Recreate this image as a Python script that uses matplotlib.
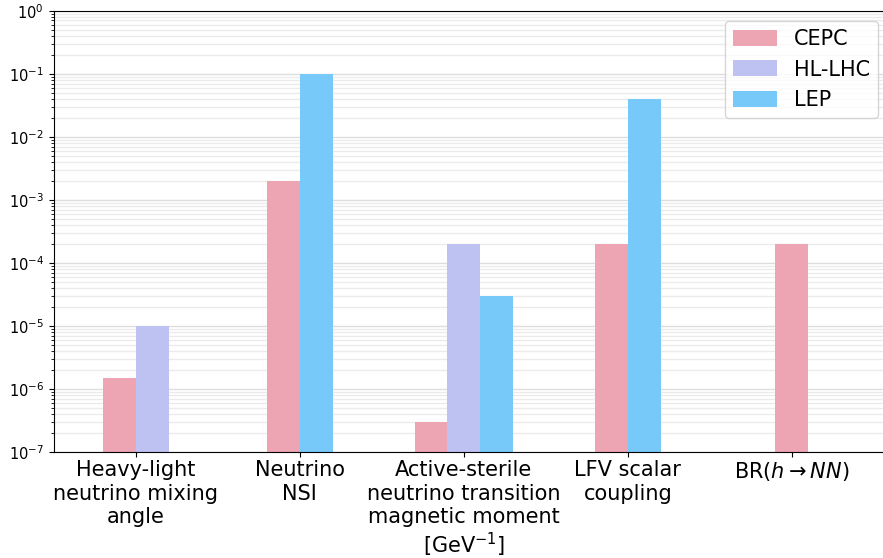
import matplotlib.pyplot as plt
from matplotlib.ticker import LogLocator

categories = [
    "Heavy-light\nneutrino mixing\nangle",
    "Neutrino\nNSI",
    "Active-sterile\nneutrino transition\nmagnetic moment\n[GeV$^{-1}$]",
    "LFV scalar\ncoupling",
    "BR($h \\rightarrow NN$)",
]
series_names = ["CEPC", "HL-LHC", "LEP"]
cepc = [1.5e-6, 2e-3, 3e-7, 2e-4, 2e-4]
hllhc = [1e-5, None, 2e-4, None, None]
lep = [None, 1e-1, 3e-5, 4e-2, None]
colors = ["#eda5b4", "#bdc2f2", "#77c9f9"]

series = [cepc, hllhc, lep]
width = 0.2

fig = plt.figure(figsize=(8.83, 5.58), dpi=100)
ax = fig.add_axes([53.5 / 883, 1 - 452 / 558, 840 / 883, (452 - 10.7) / 558])

# bars present in each category are packed and centred on the tick
drawn = set()
for i in range(len(categories)):
    present = [k for k in range(len(series)) if series[k][i] is not None]
    n = len(present)
    for j, k in enumerate(present):
        x = i + (j - (n - 1) / 2) * width
        lab = series_names[k] if k not in drawn else None
        drawn.add(k)
        ax.bar(x, series[k][i], width=width, color=colors[k], label=lab, zorder=2)

ax.set_yscale("log")
ax.set_ylim(1e-7, 1)
ax.set_xlim(-0.502, 4.62)
ax.yaxis.set_major_locator(LogLocator(base=10, numticks=20))
ax.yaxis.set_minor_locator(LogLocator(base=10, subs=range(2, 10), numticks=20))
ax.grid(which="major", axis="y", color="#dddddd", lw=1, zorder=0)
ax.grid(which="minor", axis="y", color="#ebebeb", lw=1, zorder=0)

ax.set_xticks(range(len(categories)))
ax.set_xticklabels(categories, fontsize=15, linespacing=1.2)
ax.tick_params(axis="x", pad=2.5)
ax.tick_params(axis="y", labelsize=10.5)

# legend in the order CEPC, HL-LHC, LEP
handles, labels = ax.get_legend_handles_labels()
order = [labels.index(s) for s in series_names]
ax.legend([handles[o] for o in order], [labels[o] for o in order],
          loc="upper right", bbox_to_anchor=(0.9815, 0.977), borderaxespad=0,
          fontsize=15, handlelength=2.1, handleheight=0.8)

plt.savefig("out.png", dpi=100)
